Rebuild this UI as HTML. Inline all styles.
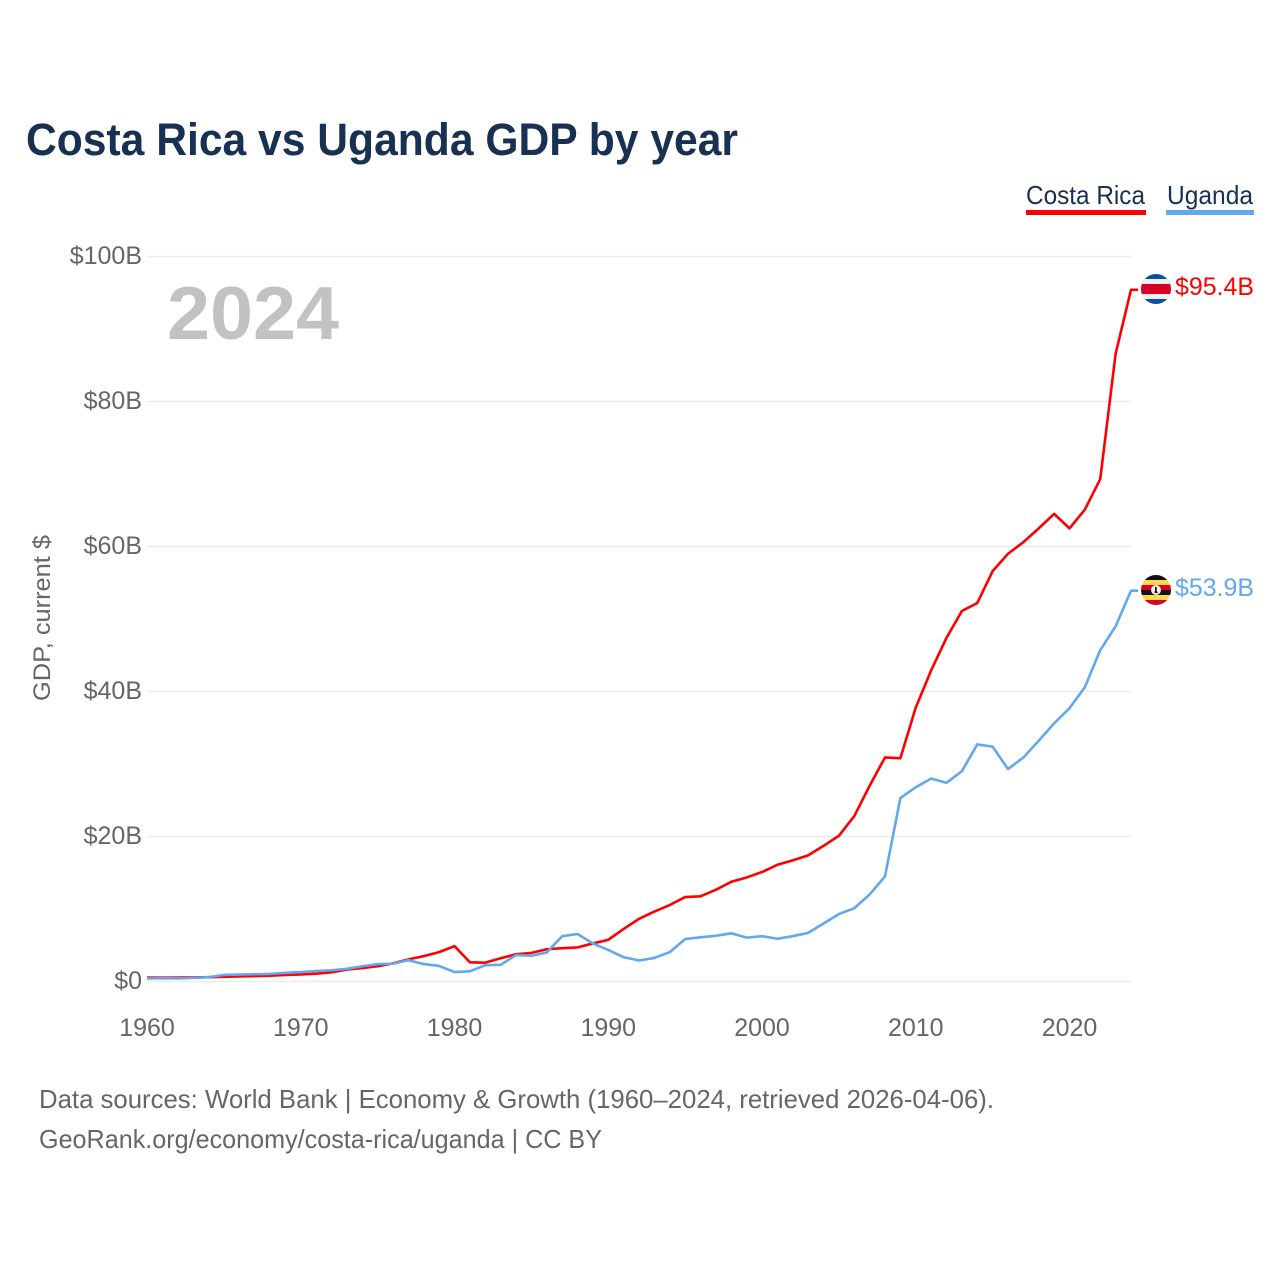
<!DOCTYPE html>
<html lang="en">
<head>
<meta charset="utf-8">
<title>Costa Rica vs Uganda GDP by year</title>
<style>
html,body{margin:0;padding:0;background:#fff;width:1280px;height:1280px;overflow:hidden}
svg{display:block;font-family:"Liberation Sans",sans-serif}
</style>
</head>
<body>
<svg id="chart" xmlns="http://www.w3.org/2000/svg" width="1280" height="1280" viewBox="0 0 1280 1280">
  <rect width="1280" height="1280" fill="#fff"/>
  <text x="26" y="155" font-size="45" font-weight="700" fill="#183153" textLength="712" lengthAdjust="spacingAndGlyphs">Costa Rica vs Uganda GDP by year</text>

  <g id="gridlines"></g>
  <g id="yticks"></g>
  <g id="xticks"></g>

  <text transform="translate(50,701) rotate(-90)" font-size="24" fill="#666" textLength="166" lengthAdjust="spacingAndGlyphs">GDP, current $</text>
  <text x="167" y="339" font-size="75" font-weight="700" fill="#c2c2c2" textLength="172" lengthAdjust="spacingAndGlyphs">2024</text>

  <g>
    <g>
      <text x="1026" y="204" font-size="26" fill="#183153" textLength="119" lengthAdjust="spacingAndGlyphs">Costa Rica</text>
      <rect x="1026" y="210" width="120" height="5" fill="#ff0000"/>
    </g>
    <g>
      <text x="1167" y="204" font-size="26" fill="#183153" textLength="86" lengthAdjust="spacingAndGlyphs">Uganda</text>
      <rect x="1166" y="210" width="88" height="5" fill="#62a8ee"/>
    </g>
  </g>

  <g id="series"></g>

  <defs>
    <clipPath id="flag-cr-clip"><circle cx="1156" cy="289" r="15"/></clipPath>
    <clipPath id="flag-ug-clip"><circle cx="1156" cy="590" r="15"/></clipPath>
  </defs>
  <g clip-path="url(#flag-cr-clip)">
    <rect x="1141" y="274" width="30" height="30" fill="#0a4fa8"/>
    <rect x="1141" y="279" width="30" height="20" fill="#f0f0f0"/>
    <rect x="1141" y="284" width="30" height="10" fill="#d80027"/>
  </g>
  <g clip-path="url(#flag-ug-clip)">
    <rect x="1141" y="575" width="30" height="5" fill="#111"/>
    <rect x="1141" y="580" width="30" height="5" fill="#ffda44"/>
    <rect x="1141" y="585" width="30" height="5" fill="#d80027"/>
    <rect x="1141" y="590" width="30" height="5" fill="#111"/>
    <rect x="1141" y="595" width="30" height="5" fill="#ffda44"/>
    <rect x="1141" y="600" width="30" height="5" fill="#d80027"/>
    <circle cx="1156" cy="590" r="5" fill="#f0f0f0"/>
    <path d="M1155 586.500l2 1-.5 3 1.500 2.500h-3.500l.5-3z" fill="#111"/>
  </g>
  <text x="1175" y="295" font-size="25" fill="#ff0000" textLength="79" lengthAdjust="spacingAndGlyphs">$95.4B</text>
  <text x="1175" y="596" font-size="25" fill="#62a8ee" textLength="79" lengthAdjust="spacingAndGlyphs">$53.9B</text>

  <g>
    <text x="39" y="1108" font-size="26" fill="#666" textLength="955" lengthAdjust="spacingAndGlyphs">Data sources: World Bank | Economy &amp; Growth (1960–2024, retrieved 2026-04-06).</text>
    <text x="39" y="1148" font-size="26" fill="#666" textLength="563" lengthAdjust="spacingAndGlyphs">GeoRank.org/economy/costa-rica/uganda | CC BY</text>
  </g>
</svg>
<script>
const startYear = 1960;
const costaRicaValues = [0.55,0.53,0.54,0.56,0.6,0.65,0.7,0.75,0.8,0.9,0.98,1.08,1.27,1.65,1.85,2.1,2.5,3.05,3.5,4.05,4.88,2.65,2.6,3.2,3.75,3.95,4.45,4.6,4.7,5.25,5.75,7.25,8.65,9.65,10.55,11.65,11.75,12.65,13.75,14.35,15.1,16.1,16.7,17.4,18.7,20.1,22.8,27.0,30.9,30.8,37.8,42.9,47.4,51.1,52.2,56.6,59.0,60.6,62.5,64.5,62.5,65.1,69.3,86.6,95.4];
const ugandaValues = [0.42,0.45,0.42,0.5,0.6,0.9,0.95,1.0,1.05,1.2,1.3,1.45,1.55,1.75,2.1,2.4,2.45,2.95,2.4,2.15,1.3,1.4,2.25,2.3,3.65,3.55,4.0,6.25,6.55,5.25,4.35,3.35,2.9,3.25,4.05,5.85,6.1,6.3,6.65,6.05,6.25,5.9,6.25,6.7,8.0,9.3,10.1,12.0,14.5,25.3,26.8,28.0,27.4,29.0,32.7,32.4,29.3,30.9,33.2,35.6,37.7,40.6,45.7,49.0,53.9];
const yTickValues = [0,20,40,60,80,100];
const yTickLabels = ["$0","$20B","$40B","$60B","$80B","$100B"];
const xTickYears = [1960,1970,1980,1990,2000,2010,2020];

const NS = "http://www.w3.org/2000/svg";
const xOf = function (year) { return 147 + (year - 1960) * (984 / 64); };
const yOf = function (v) { return 981.5 - v * 7.25; };

const gridG = document.getElementById("gridlines");
const yG = document.getElementById("yticks");
const xG = document.getElementById("xticks");
const seriesG = document.getElementById("series");

yTickValues.forEach(function (v, i) {
  const line = document.createElementNS(NS, "line");
  
  
  line.setAttribute("x1", 147);
  line.setAttribute("x2", 1131);
  line.setAttribute("y1", yOf(v));
  line.setAttribute("y2", yOf(v));
  line.setAttribute("stroke", "#ebebeb");
  line.setAttribute("stroke-width", "1.5");
  gridG.appendChild(line);

  const t = document.createElementNS(NS, "text");
  
  
  t.setAttribute("x", 142);
  t.setAttribute("y", yOf(v) + 7.5);
  t.setAttribute("text-anchor", "end");
  t.setAttribute("font-size", "25");
  t.setAttribute("fill", "#666");
  t.textContent = yTickLabels[i];
  yG.appendChild(t);
});

xTickYears.forEach(function (yr) {
  const t = document.createElementNS(NS, "text");
  
  
  t.setAttribute("x", xOf(yr));
  t.setAttribute("y", 1036);
  t.setAttribute("text-anchor", "middle");
  t.setAttribute("font-size", "25");
  t.setAttribute("fill", "#666");
  t.textContent = String(yr);
  xG.appendChild(t);
});

function buildPoints(values) {
  const pts = values.map(function (v, i) {
    return xOf(startYear + i).toFixed(2) + "," + yOf(v).toFixed(2);
  });
  const last = values[values.length - 1];
  pts.push((xOf(startYear + values.length - 1) + 7).toFixed(2) + "," + yOf(last).toFixed(2));
  return pts.join(" ");
}

const lineCR = document.createElementNS(NS, "polyline");


lineCR.setAttribute("points", buildPoints(costaRicaValues));
lineCR.setAttribute("fill", "none");
lineCR.setAttribute("stroke", "#ff0000");
lineCR.setAttribute("stroke-width", "2.6");
lineCR.setAttribute("stroke-linejoin", "round");
seriesG.appendChild(lineCR);

const lineUG = document.createElementNS(NS, "polyline");


lineUG.setAttribute("points", buildPoints(ugandaValues));
lineUG.setAttribute("fill", "none");
lineUG.setAttribute("stroke", "#62a8ee");
lineUG.setAttribute("stroke-width", "2.6");
lineUG.setAttribute("stroke-linejoin", "round");
seriesG.appendChild(lineUG);
</script>
</body>
</html>
